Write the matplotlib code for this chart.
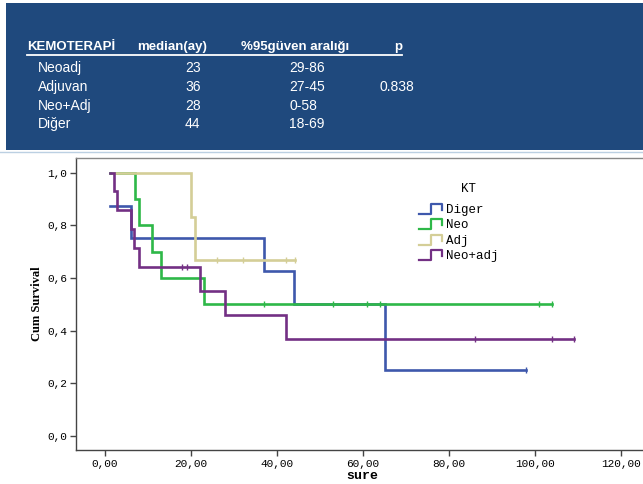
import matplotlib
matplotlib.use("Agg")
import matplotlib.pyplot as plt
from matplotlib.patches import Rectangle
from matplotlib.lines import Line2D

W, H = 643, 484

# ---------------- data ----------------
table_header = ["KEMOTERAPİ", "median(ay)", "%95güven aralığı", "p"]
table_groups = ["Neoadj", "Adjuvan", "Neo+Adj", "Diğer"]
table_median = ["23", "36", "28", "44"]
table_ci = ["29-86", "27-45", "0-58", "18-69"]
table_p = ["", "0.838", "", ""]

series_names = ["Diger", "Neo", "Adj", "Neo+adj"]
diger_t = [1.2, 6.0, 37.0, 44.0, 65.0, 98.0]
diger_s = [0.875, 0.75, 0.625, 0.5, 0.25, 0.25]
diger_c = [98.0]
neo_t = [1.2, 7.0, 8.0, 11.0, 13.0, 23.0, 104.0]
neo_s = [1.0, 0.9, 0.8, 0.7, 0.6, 0.5, 0.5]
neo_c = [37.0, 53.0, 61.0, 64.0, 101.0, 104.0]
adj_t = [1.9, 20.1, 21.0, 44.2]
adj_s = [1.0, 0.833, 0.667, 0.667]
adj_c = [26.0, 32.0, 42.0, 44.2]
neoadj_t = [1.2, 2.1, 2.9, 6.0, 6.8, 7.8, 22.0, 28.0, 42.0, 109.0]
neoadj_s = [1.0, 0.929, 0.857, 0.786, 0.714, 0.643, 0.551, 0.459, 0.367, 0.367]
neoadj_c = [18.0, 19.0, 86.0, 104.0, 109.0]

x_ticks = [0, 20, 40, 60, 80, 100, 120]
y_ticks = [0.0, 0.2, 0.4, 0.6, 0.8, 1.0]

colors = ["#3E58AC", "#2EB848", "#D4CE97", "#733084"]

# ---------------- figure ----------------
fig = plt.figure(figsize=(W / 100, H / 100), dpi=100)

def fx(px):
    return px / W

def fy(py):
    return 1 - py / H

# banner
fig.patches.append(Rectangle((fx(6), fy(150)), fx(643) - fx(6), fy(3) - fy(150),
                             transform=fig.transFigure, facecolor="#1F497D",
                             edgecolor="none", zorder=0))
# thin separator line
fig.add_artist(Line2D([fx(0), fx(643)], [fy(152), fy(152)], transform=fig.transFigure,
                      color="#BCD0E2", lw=1.0))

tf = dict(family="Liberation Sans", color="white", fontsize=10, va="center")
hf = dict(tf, fontsize=9.5, fontweight="bold")
hy = 47
fig.text(fx(27), fy(hy), table_header[0], **hf)
fig.text(fx(137), fy(hy), table_header[1], **hf)
fig.text(fx(241), fy(hy), table_header[2], **hf)
fig.text(fx(398), fy(hy), table_header[3], ha="center", **hf)
fig.add_artist(Line2D([fx(27), fx(402)], [fy(55), fy(55)], transform=fig.transFigure,
                      color="white", lw=1.3))
row_y = [68, 87, 106, 124]
for i, ry in enumerate(row_y):
    fig.text(fx(38), fy(ry), table_groups[i], **tf)
    fig.text(fx(185), fy(ry), table_median[i], **tf)
    fig.text(fx(289), fy(ry), table_ci[i], **tf)
    if table_p[i]:
        fig.text(fx(380), fy(ry), table_p[i], **tf)

# ---------------- KM plot ----------------
ax = fig.add_axes([fx(76), fy(450), fx(645) - fx(76), fy(158) - fy(450)])
px_per_unit = 4.3
x0 = 105
ax.set_xlim((76 - x0) / px_per_unit, (645 - x0) / px_per_unit)
ax.set_ylim(-0.054, 1.056)

all_t = [diger_t, neo_t, adj_t, neoadj_t]
all_s = [diger_s, neo_s, adj_s, neoadj_s]
all_c = [diger_c, neo_c, adj_c, neoadj_c]

for t, s, c, col in zip(all_t, all_s, all_c, colors):
    ax.step(t, s, where="post", color=col, lw=1.9, solid_joinstyle="miter")
    cs = []
    for ct in c:
        lvl = s[0]
        for tt, ss in zip(t, s):
            if tt <= ct:
                lvl = ss
        cs.append(lvl)
    ax.plot(c, cs, linestyle="none", marker="|", markersize=4.5, mew=1.0, color=col)

ax.spines["right"].set_visible(False)
for sp in ["left", "bottom"]:
    ax.spines[sp].set_color("#444444")
    ax.spines[sp].set_linewidth(1.0)
ax.spines["top"].set_color("#888888")
ax.spines["top"].set_linewidth(1.0)

mono = "Liberation Mono"
ax.set_xticks(x_ticks)
ax.set_xticklabels([f"{v:.2f}".replace(".", ",") for v in x_ticks],
                   family=mono, fontsize=8)
ax.set_yticks(y_ticks)
ax.set_yticklabels([f"{v:.1f}".replace(".", ",") for v in y_ticks],
                   family=mono, fontsize=8)
ax.tick_params(axis="both", direction="out", length=4.5, width=1.0, color="#444444", pad=2)

fig.text(fx(37), fy(304), "Cum Survival", family="Liberation Serif", fontweight="bold",
         fontsize=9, rotation=90, ha="center", va="center")
fig.text(fx(362), fy(476), "sure", family=mono, fontweight="bold", fontsize=9.5,
         ha="center", va="center")

# legend (manual)
fig.text(fx(469), fy(189), "KT", family=mono, fontsize=9, ha="center", va="center")
leg_y = [209, 224, 240, 255]
for name, col, ly in zip(series_names, colors, leg_y):
    xs = [419, 431, 431, 442, 442]
    ys = [ly + 5, ly + 5, ly - 5, ly - 5, ly + 1]
    fig.add_artist(Line2D([fx(v) for v in xs], [fy(v) for v in ys],
                          transform=fig.transFigure, color=col, lw=1.6))
    fig.text(fx(446), fy(ly + 1), name, family=mono, fontsize=9, va="center")

fig.savefig("out.png", dpi=100)
